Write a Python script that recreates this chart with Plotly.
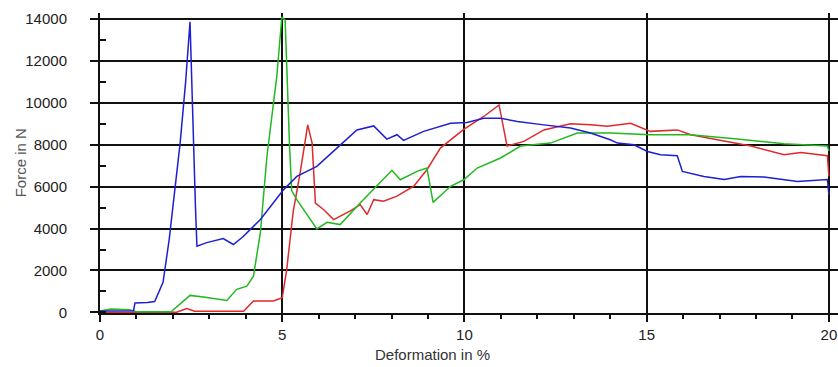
import plotly.graph_objects as go

# Data (Deformation in %, Force in N)
blue_x = [0, 0.5, 0.92, 0.96, 1.3, 1.5, 1.73, 1.9, 2.06, 2.2, 2.35, 2.47, 2.62, 2.66, 2.93, 3.38, 3.66,
          3.93, 4.12, 4.4, 4.7, 5.04, 5.4, 5.95, 6.5, 7.05, 7.51, 7.87, 8.15, 8.33, 8.88, 9.62, 10.07,
          10.53, 10.99, 11.45, 12.18, 12.91, 13.46, 14.0, 14.2, 14.65, 15.02, 15.38, 15.84, 15.98,
          16.57, 17.13, 17.58, 18.22, 19.14, 19.96, 20.0]
blue_y = [60, 80, 80, 450, 470, 520, 1430, 3500, 6000, 8100, 11000, 13870, 5000, 3160, 3330, 3520, 3240,
          3620, 3950, 4430, 5100, 5860, 6490, 6970, 7840, 8710, 8900, 8270, 8480, 8210, 8640, 9030, 9060,
          9270, 9270, 9110, 8950, 8800, 8560, 8240, 8080, 8000, 7680, 7520, 7480, 6730,
          6490, 6340, 6490, 6460, 6250, 6340, 5620]

green_x = [0, 0.3, 0.8, 1.0, 1.95, 2.2, 2.47, 2.84, 3.48, 3.75, 4.03, 4.21, 4.4, 4.58, 4.85, 4.99, 5.08, 5.2,
           5.26, 5.4, 5.95, 6.23, 6.59, 7.14, 7.6, 8.01, 8.24, 8.7, 8.97, 9.14, 9.62, 9.98, 10.35,
           10.99, 11.54, 12.36, 13.1, 14.01, 15.1, 16.2, 17.49, 18.77, 19.96, 20.0]
green_y = [60, 160, 130, 30, 30, 400, 810, 730, 570, 1100, 1250, 1730, 3790, 7440, 11250, 14100, 13950, 8000,
           5800, 5380, 3980, 4300, 4190, 5220, 6020, 6780, 6330, 6730, 6890, 5250, 6020, 6330, 6890,
           7370, 7940, 8080, 8560, 8560, 8480, 8480, 8270, 8050, 7940, 7700]

red_x = [0, 2.1, 2.38, 2.6, 3.94, 4.21, 4.76, 5.0, 5.12, 5.3, 5.49, 5.7, 5.82, 5.91, 6.14, 6.41, 6.87,
         7.14, 7.33, 7.51, 7.78, 8.15, 8.61, 8.97, 9.34, 9.98, 10.53, 10.95, 11.17, 11.63, 12.18,
         12.91, 13.46, 13.92, 14.56, 15.1, 15.84, 16.21, 16.94, 17.86, 18.77, 19.23, 19.96, 20.0]
red_y = [10, 10, 180, 50, 50, 540, 540, 700, 2000, 4800, 6650, 8950, 8080, 5220, 4900, 4430, 4840,
         5140, 4670, 5380, 5310, 5550, 6020, 6810, 7840, 8730, 9350, 9900, 7940, 8160, 8710,
         9000, 8950, 8880, 9030, 8640, 8710, 8480, 8240, 7940, 7520, 7630, 7480, 6490]

x_tickvals = [0, 5, 10, 15, 20]
y_tickvals = [0, 2000, 4000, 6000, 8000, 10000, 12000, 14000]
x_title = "Deformation in %"
y_title = "Force in N"

series = [
    (red_x, red_y, "#dd2a2a"),
    (green_x, green_y, "#22b822"),
    (blue_x, blue_y, "#1f1fd0"),
]

fig = go.Figure()
for xs, ys, col in series:
    fig.add_trace(go.Scatter(x=xs, y=ys, mode="lines",
                             line=dict(color=col, width=1.5), showlegend=False,
                             hoverinfo="skip"))

FONT = "Liberation Sans, Arial, sans-serif"
XR = [0, 20.25]
YR = [-30, 14290]

fig.update_layout(
    width=838, height=367,
    margin=dict(l=100, r=0, t=13, b=54),
    paper_bgcolor="white", plot_bgcolor="white",
    font=dict(family=FONT, size=15, color="#222"),
    xaxis=dict(range=XR, tickvals=x_tickvals, ticktext=[str(v) for v in x_tickvals],
               showgrid=True, gridcolor="#111", gridwidth=2,
               showline=True, linecolor="#111", linewidth=2,
               ticks="outside", ticklen=7, tickwidth=2, tickcolor="#111",
               minor=dict(dtick=1, tick0=0, ticks="outside", ticklen=4, tickwidth=1.5,
                          tickcolor="#111", showgrid=False),
               zeroline=False, ticklabelstandoff=0,
               tickfont=dict(family=FONT, size=15, color="#222")),
    xaxis2=dict(range=XR, overlaying="x", anchor="y", side="bottom",
                showgrid=False, showline=False, zeroline=False, showticklabels=False,
                ticks="", tickvals=x_tickvals,
                minor=dict(dtick=1, tick0=0, ticks="inside", ticklen=4, tickwidth=1.5,
                           tickcolor="#111", showgrid=False)),
    yaxis=dict(range=YR, tickvals=y_tickvals, ticktext=[str(v) for v in y_tickvals],
               showgrid=True, gridcolor="#111", gridwidth=2,
               showline=True, linecolor="#111", linewidth=2,
               ticks="outside", ticklen=8, tickwidth=2, tickcolor="#111",
               minor=dict(dtick=1000, tick0=0, ticks="inside", ticklen=6, tickwidth=1.5,
                          tickcolor="#111", showgrid=False),
               zeroline=False, ticklabelstandoff=20,
               tickfont=dict(family=FONT, size=15, color="#222")),
    annotations=[
        dict(text=x_title, xref="paper", yref="paper", x=0.45, y=-0.138,
             xanchor="center", yanchor="middle", showarrow=False,
             font=dict(family=FONT, size=15, color="#333")),
        dict(text=y_title, xref="paper", yref="paper", x=-0.108, y=0.5,
             xanchor="center", yanchor="middle", showarrow=False, textangle=-90,
             font=dict(family=FONT, size=15, color="#555")),
    ],
)

fig.write_html("out.html")
